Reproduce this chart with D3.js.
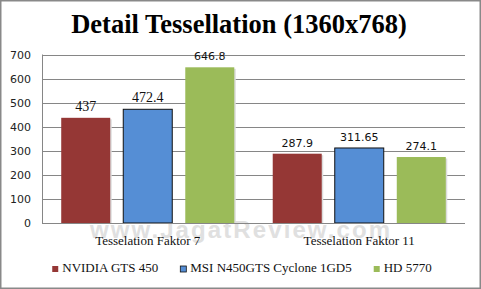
<!DOCTYPE html>
<html>
<head>
<meta charset="utf-8">
<script src="https://cdn.jsdelivr.net/npm/d3@7"></script>
<style>
  body { margin: 0; background: #fff; }
  svg { display: block; }
</style>
</head>
<body>
<div id="chart"></div>
<script>
// data
var categories = ["Tesselation Faktor 7", "Tesselation Faktor 11"];
var series = ["NVIDIA GTS 450", "MSI N450GTS Cyclone 1GD5", "HD 5770"];
var nvidia = [437, 287.9];
var msi = [472.4, 311.65];
var hd5770 = [646.8, 274.1];
var labels = [["437", "472.4", "646.8"], ["287.9", "311.65", "274.1"]];
var yTicks = [0, 100, 200, 300, 400, 500, 600, 700];

var colors = ["#953735", "#558ed5", "#9bbb59"];
var values = [nvidia, msi, hd5770];

var width = 481, height = 289;
var plotLeft = 42, plotRight = 465, plotTop = 54.5, plotBottom = 223;

var svg = d3.select("#chart").append("svg")
    .attr("width", width)
    .attr("height", height);

svg.append("rect")
    .attr("x", 0.75).attr("y", 0.75)
    .attr("width", width - 1.5).attr("height", height - 1.5)
    .attr("fill", "#fff")
    .attr("stroke", "#898989")
    .attr("stroke-width", 1.5);

// watermark
svg.append("text")
    .attr("x", 240).attr("y", 238)
    .attr("text-anchor", "middle")
    .attr("textLength", 300)
    .attr("font-family", "Liberation Sans, Arial, sans-serif")
    .attr("font-weight", "bold")
    .attr("font-size", 24)
    .attr("fill", "#e0e0e0")
    .text("www.JagatReview.com");

// title
svg.append("text")
    .attr("x", 239).attr("y", 33)
    .attr("text-anchor", "middle")
    .attr("font-family", "Liberation Serif, serif")
    .attr("font-weight", "bold")
    .attr("font-size", 26.5)
    .attr("fill", "#000")
    .text("Detail Tessellation (1360x768)");

var y = d3.scaleLinear().domain([0, 700]).range([plotBottom, plotTop]);
var x0 = d3.scaleBand().domain(categories).range([plotLeft, plotRight]).padding(0);
var x1 = d3.scaleBand().domain(series).range([0, x0.bandwidth()])
    .paddingInner(0.21).paddingOuter(0.31);

// gridlines
svg.append("g").selectAll("line")
    .data(yTicks.filter(function (d) { return d > 0; }))
    .enter().append("line")
    .attr("x1", plotLeft).attr("x2", plotRight)
    .attr("y1", function (d) { return Math.round(y(d)) + 0.5; })
    .attr("y2", function (d) { return Math.round(y(d)) + 0.5; })
    .attr("stroke", "#868686");

// y axis labels
svg.append("g").selectAll("text")
    .data(yTicks)
    .enter().append("text")
    .attr("x", 31)
    .attr("y", function (d) { return y(d) + 4; })
    .attr("text-anchor", "end")
    .attr("font-family", "DejaVu Sans, Verdana, sans-serif")
    .attr("font-size", 11)
    .attr("fill", "#222")
    .text(function (d) { return d; });

// bars
var groups = svg.selectAll("g.grp")
    .data(categories)
    .enter().append("g")
    .attr("class", "grp")
    .attr("transform", function (d) { return "translate(" + x0(d) + ",0)"; });

groups.each(function (cat, gi) {
    var g = d3.select(this);
    series.forEach(function (s, si) {
        var v = values[si][gi];
        if (si !== 1) {
            g.append("rect")
                .attr("x", x1(s) + 1.5)
                .attr("y", y(v) + 1.5)
                .attr("width", x1.bandwidth())
                .attr("height", plotBottom - y(v) - 1.5)
                .attr("fill", "#dcdcdc");
        }
        g.append("rect")
            .attr("x", x1(s))
            .attr("y", y(v))
            .attr("width", x1.bandwidth())
            .attr("height", plotBottom - y(v))
            .attr("fill", colors[si])
            .attr("stroke", si === 1 ? "#111" : "none")
            .attr("stroke-width", 1);
        var serif = gi === 0 && si < 2;
        g.append("text")
            .attr("x", x1(s) + x1.bandwidth() / 2)
            .attr("y", y(v) - 7)
            .attr("text-anchor", "middle")
            .attr("font-family", serif ? "Liberation Serif, serif" : "DejaVu Sans, Verdana, sans-serif")
            .attr("font-size", serif ? 14 : 11)
            .attr("fill", "#111")
            .text(labels[gi][si]);
    });
});

// axes lines
svg.append("line")
    .attr("x1", plotLeft + 0.5).attr("x2", plotLeft + 0.5)
    .attr("y1", plotTop).attr("y2", plotBottom)
    .attr("stroke", "#868686");
svg.append("line")
    .attr("x1", plotLeft).attr("x2", plotRight)
    .attr("y1", plotBottom + 0.5).attr("y2", plotBottom + 0.5)
    .attr("stroke", "#868686");

// category labels
svg.append("g").selectAll("text")
    .data(categories)
    .enter().append("text")
    .attr("x", function (d) { return x0(d) + x0.bandwidth() / 2; })
    .attr("y", 245)
    .attr("text-anchor", "middle")
    .attr("font-family", "Liberation Serif, serif")
    .attr("font-size", 13)
    .attr("fill", "#111")
    .text(function (d) { return d; });

// legend
var legend = svg.append("g");
var items = legend.selectAll("g")
    .data(series)
    .enter().append("g");
items.append("rect")
    .attr("y", 266).attr("width", 6).attr("height", 6)
    .attr("fill", function (d, i) { return colors[i]; })
    .attr("stroke", function (d, i) { return i === 1 ? "#111" : "none"; })
    .attr("stroke-width", 0.8);
items.append("text")
    .attr("x", 10).attr("y", 272)
    .attr("font-family", "Liberation Serif, serif")
    .attr("font-size", 13)
    .attr("fill", "#111")
    .text(function (d) { return d; });
var xpos = 0, gap = 22;
items.each(function () {
    var w = this.getBBox().width;
    d3.select(this).attr("transform", "translate(" + xpos + ",0)");
    xpos += w + gap;
});
legend.attr("transform", "translate(" + (242 - (xpos - gap) / 2) + ",0)");
</script>
</body>
</html>
